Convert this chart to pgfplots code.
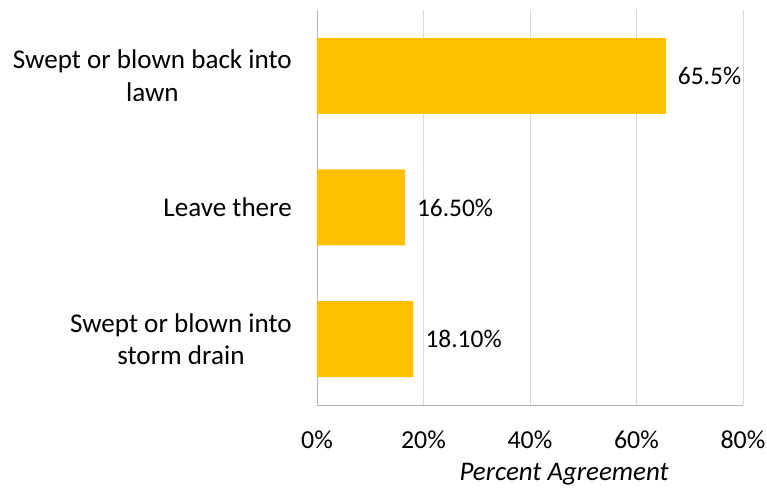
\documentclass[border=0pt]{standalone}
\usepackage{fontspec}
\setmainfont{Carlito}
\usepackage{pgfplots}
\pgfplotsset{compat=1.18}
\definecolor{bargold}{HTML}{FFC000}
\begin{document}
\begin{tikzpicture}[x=1bp,y=1bp]
\path[use as bounding box] (-317,-89) rectangle (450,405);
\begin{axis}[
  at={(0,0)}, anchor=south west,
  scale only axis, width=426bp, height=395bp,
  xbar, bar width=76bp,
  xmin=0, xmax=80, ymin=-0.5, ymax=2.5,
  ytick={0,1,2},
  yticklabels={{Swept or blown into\\storm drain},{Leave there},{Swept or blown back into\\lawn}},
  yticklabel style={align=center, inner sep=0pt, anchor=east, xshift=-25bp, font=\fontsize{27.2}{33}\selectfont},
  xtick={0,20,40,60,80},
  xticklabel={\pgfmathprintnumber{\tick}\%},
  xticklabel style={inner sep=0pt, anchor=center, yshift=-35bp, font=\fontsize{26}{31}\selectfont},
  /pgf/number format/assume math mode=true,
  major tick length=0pt,
  xmajorgrids, grid style={draw=black!15, line width=0.8bp},
  axis x line*=bottom, axis y line*=left,
  axis line style={draw=black!30, line width=0.8bp},
  xlabel={\itshape Percent Agreement},
  xlabel style={at={(axis description cs:0.58,0)}, anchor=center, yshift=-69bp, inner sep=0pt, font=\fontsize{27}{32}\selectfont},
  point meta=explicit symbolic,
  nodes near coords,
  nodes near coords style={anchor=west, inner sep=0pt, xshift=12bp, font=\fontsize{25.5}{31}\selectfont, text=black},
]
\addplot[fill=bargold, draw=none] coordinates {
  (18.1,0) [18.10\%]
  (16.5,1) [16.50\%]
  (65.5,2) [65.5\%]
};
\end{axis}
\end{tikzpicture}
\end{document}
